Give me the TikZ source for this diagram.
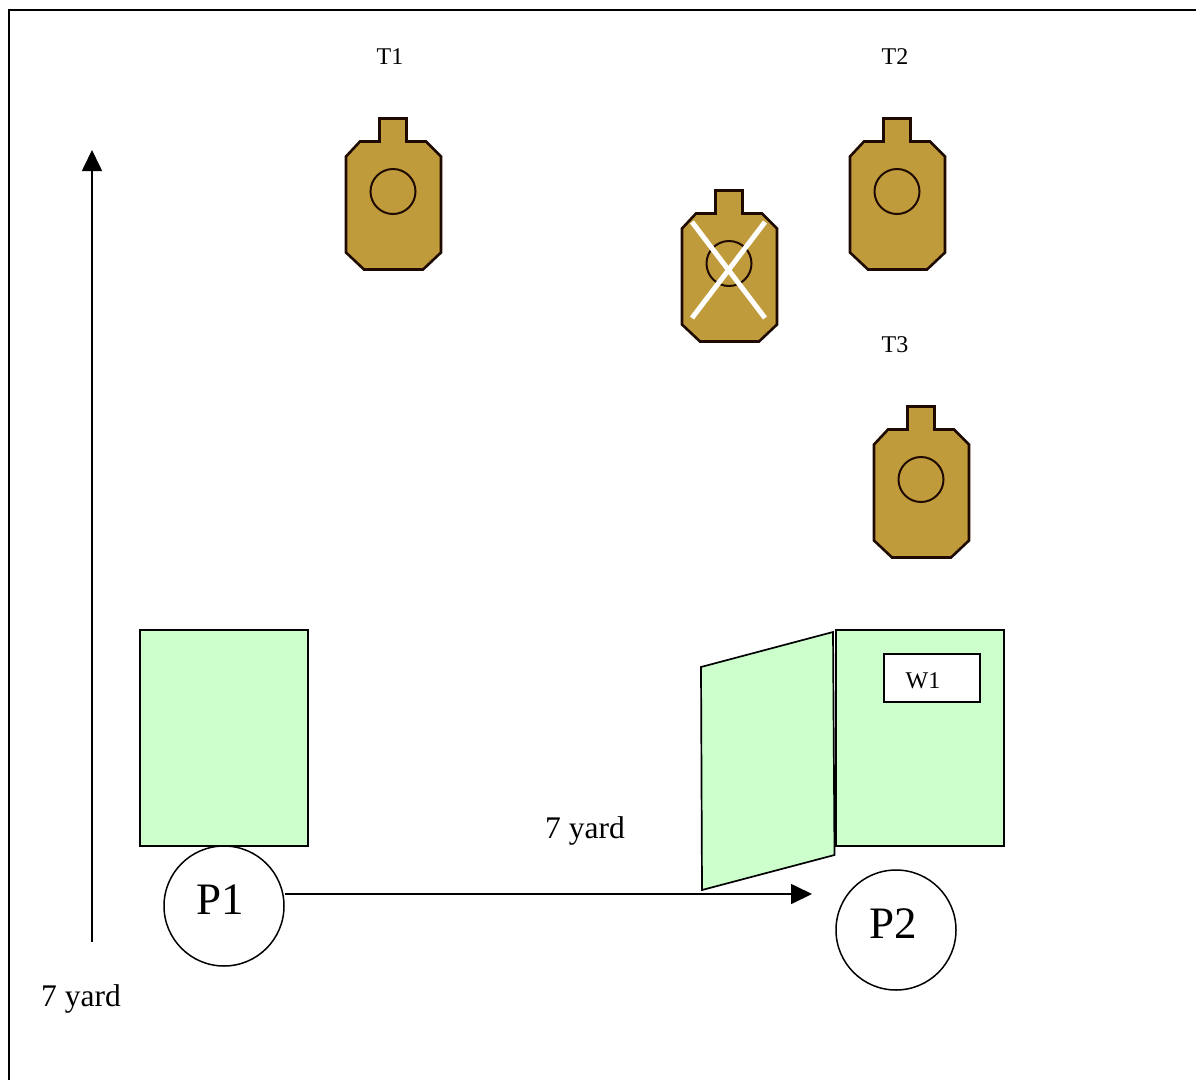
\documentclass[tikz,border=0pt]{standalone}
\usepackage{fontspec}
\setmainfont{Liberation Serif}
\usetikzlibrary{arrows.meta}
\definecolor{panelgreen}{HTML}{CCFFCC}
\definecolor{targetgold}{HTML}{BF9B3C}
\definecolor{targetline}{HTML}{1E0A00}
\tikzset{
  x=1bp,y=-1bp,
  frameline/.style={line width=2bp,black},
  panel/.style={draw=black,fill=panelgreen,line width=1.7bp,line join=miter},
  whitebox/.style={draw=black,fill=white,line width=1.7bp},
  person/.style={circle,draw=black,fill=white,line width=1.5bp,minimum size=120bp,inner sep=0pt},
  dimarrow/.style={line width=1.7bp,-{Triangle[length=21bp,width=20bp]}},
  smalllabel/.style={font=\fontsize{24bp}{26bp}\selectfont,inner sep=0pt},
  midlabel/.style={font=\fontsize{31.5bp}{34bp}\selectfont,inner sep=0pt},
  biglabel/.style={font=\fontsize{45bp}{48bp}\selectfont,inner sep=0pt},
  cross/.style={draw=white,line width=5bp},
  target/.pic={
    \draw[fill=targetgold,draw=targetline,line width=2.6bp,line join=miter]
      (-13.5,-73) -- (13.5,-73) -- (13.5,-50) -- (33,-50) -- (48,-35) -- (48,61)
      -- (30,78) -- (-29,78) -- (-47,61) -- (-47,-35) -- (-33,-50) -- (-13.5,-50) -- cycle;
    \draw[draw=targetline,line width=2bp] (0,0) circle (22.5);
  }
}
\begin{document}
\begin{tikzpicture}
\useasboundingbox (0,0) rectangle (1196,1080);
\draw[frameline] (9,1080) -- (9,10) -- (1196,10);

\pic at (393,191.5) {target};
\pic at (897,191.5) {target};
\pic at (729,263.5) {target};
\pic at (921,479.5) {target};

\coordinate (xa1) at (692,222); \coordinate (xa2) at (765,318);
\coordinate (xb1) at (765,222); \coordinate (xb2) at (692,318);
\draw[cross] (xa1) -- (xa2);
\draw[cross] (xb1) -- (xb2);

\node[smalllabel] (t1) at (390,57) {T1};
\node[smalllabel] (t2) at (895,57) {T2};
\node[smalllabel] (t3) at (895,345) {T3};

\draw[panel] (140,630) rectangle (308,846);
\draw[panel] (836,630) rectangle (1004,846);
\draw[panel] (701,667) -- (833,632) -- (834.5,855) -- (702,890) -- cycle;
\draw[whitebox] (884,654) rectangle (980,702);
\node[smalllabel] (w1) at (923,681) {W1};

\node[person] (p1) at (224,906) {};
\node[person] (p2) at (896,930) {};
\node[biglabel] (p1t) at (220,900) {P1};
\node[biglabel] (p2t) at (893,924) {P2};

\coordinate (hEnd) at (812,894);
\coordinate (vStart) at (92,942);
\coordinate (vEnd) at (92,150);
\draw[dimarrow] (p1.east |- hEnd) -- (hEnd);
\draw[dimarrow] (vStart) -- (vEnd);

\node[midlabel] (lv) at (81,999) {7 yard};
\node[midlabel] (lh) at (585,831) {7 yard};
\end{tikzpicture}
\end{document}
